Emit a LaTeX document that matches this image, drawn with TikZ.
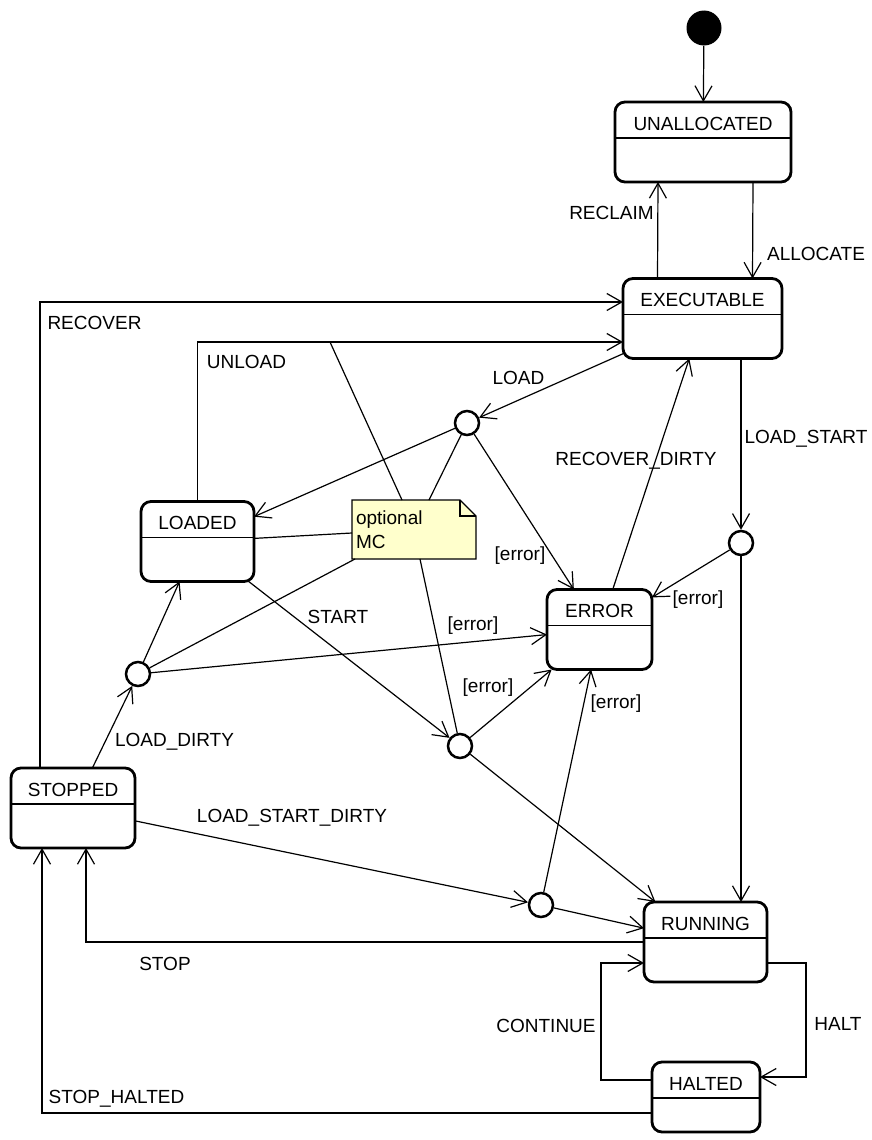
\documentclass[tikz,border=0pt]{standalone}
\usepackage{fontspec}
\setmainfont{Liberation Sans}
\usetikzlibrary{arrows.meta,backgrounds}
\definecolor{notefill}{HTML}{FFFFCC}

\tikzset{
  every node/.style={font=\fontsize{19}{24}\selectfont},
  umlstate/.style={draw, line width=2.8pt, rounded corners=10pt, inner sep=0pt, outer sep=0pt, minimum height=80pt,
    path picture={\draw[line width=1.2pt] ([yshift=-36pt]path picture bounding box.north west) -- ([yshift=-36pt]path picture bounding box.north east);},
    label={[anchor=base,yshift=-28pt]north:#1}},
  startdot/.style={circle, fill=black, minimum size=35pt, inner sep=0pt},
  junction/.style={circle, draw, line width=2.5pt, minimum size=24pt, inner sep=0pt, fill=white},
  notebox/.style={minimum width=124pt, minimum height=59pt, inner sep=0pt, outer sep=0pt, align=left, text width=116pt},
  trans/.style={line width=1.2pt, -{Straight Barb[length=15pt,width=17pt]}},
  noteline/.style={line width=1.2pt},
  lbl/.style={anchor=base, inner sep=0pt}
}

\begin{document}
\begin{tikzpicture}[x=1pt,y=-1pt]
\useasboundingbox (0,0) rectangle (872,1140);

\node[startdot] (start) at (704,28) {};
\node[umlstate=UNALLOCATED, minimum width=176pt] (unalloc) at (703,142) {};
\node[umlstate=EXECUTABLE, minimum width=159pt] (exec) at (702.5,318.5) {};
\node[umlstate=LOADED, minimum width=113pt] (loaded) at (197.5,541.5) {};
\node[umlstate=ERROR, minimum width=105pt] (error) at (599.5,629.5) {};
\node[umlstate=STOPPED, minimum width=124pt] (stopped) at (73,808) {};
\node[umlstate=RUNNING, minimum width=123pt] (running) at (705.5,942) {};
\node[umlstate=HALTED, minimum width=108pt, minimum height=70pt] (halted) at (706,1097) {};

\node[junction] (j1) at (467,423) {};
\node[junction] (j2) at (138,674) {};
\node[junction] (j3) at (460,746) {};
\node[junction] (j4) at (741,543) {};
\node[junction] (j5) at (541,905) {};

\node[notebox] (note) at (414,529.5) {optional\\MC};
\begin{scope}[on background layer]
\filldraw[fill=notefill, line width=1.2pt] (note.north west) -- ([xshift=-16pt]note.north east) -- ([yshift=-16pt]note.north east) -- (note.south east) -- (note.south west) -- cycle;
\draw[line width=1.2pt] ([xshift=-16pt]note.north east) |- ([yshift=-16pt]note.north east);
\end{scope}
\coordinate (unl) at (330,342);

\draw[trans] (start) -- (unalloc);
\draw[trans] ([xshift=50pt]unalloc.south) -- ([xshift=50pt]exec.north);
\draw[trans] ([xshift=-45pt]exec.north) -- ([xshift=-45pt]unalloc.south);
\draw[trans] ([xshift=-33pt]stopped.north) |- ([yshift=16.5pt]exec.west);
\draw[trans] (loaded.north) |- ([yshift=-23.5pt]exec.west);
\draw[trans] (exec) -- (j1);
\draw[trans] (j1) -- (loaded);
\draw[trans] (j1) -- (error);
\draw[trans] (exec.south -| j4) -- (j4);
\draw[trans] (j4) -- (error);
\draw[trans] (j4) -- (running.north -| j4);
\draw[trans] (error) -- (exec);
\draw[trans] (loaded) -- (j3);
\draw[trans] (stopped) -- (j2);
\draw[trans] (j2) -- (loaded);
\draw[trans] (j2) -- (error);
\draw[trans] (j3) -- (error);
\draw[trans] (j3) -- (running);
\draw[trans] (stopped) -- (j5);
\draw[trans] (j5) -- (error);
\draw[trans] (j5) -- (running);
\draw[trans] (running.west) -| ([xshift=13pt]stopped.south);
\draw[trans] ([yshift=-16pt]halted.west) -| ([xshift=-31pt]stopped.south);
\draw[trans] ([yshift=17pt]halted.west) -- ++(-51,0) |- ([yshift=-21pt]running.west);
\draw[trans] ([yshift=-21pt]running.east) -- ++(39,0) |- ([yshift=20pt]halted.east);

\draw[noteline] ([xshift=-12pt]note.north) -- (unl);
\draw[noteline] ([xshift=15pt]note.north) -- (j1);
\draw[noteline] ([yshift=-3.5pt]note.west) -- (loaded);
\draw[noteline] ([xshift=3pt]note.south west) -- (j2);
\draw[noteline] ([xshift=6pt]note.south) -- (j3);

\node[lbl] (lreclaim) at (611.5,219) {RECLAIM};
\node[lbl] (lallocate) at (816,260) {ALLOCATE};
\node[lbl] (lrecover) at (94.5,329) {RECOVER};
\node[lbl] (lunload) at (246.5,368) {UNLOAD};
\node[lbl] (lload) at (518.5,384) {LOAD};
\node[lbl] (lloadstart) at (806,443) {LOAD\_START};
\node[lbl] (lrecdirty) at (636,465) {RECOVER\_DIRTY};
\node[lbl] (lstart) at (338,623) {START};
\node[lbl] (lloaddirty) at (174.5,746) {LOAD\_DIRTY};
\node[lbl] (llsd) at (292,822) {LOAD\_START\_DIRTY};
\node[lbl] (lstop) at (165,970) {STOP};
\node[lbl] (lcontinue) at (546,1032) {CONTINUE};
\node[lbl] (lhalt) at (838,1030) {HALT};
\node[lbl] (lstophalted) at (116.5,1103) {STOP\_HALTED};
\node[lbl] (lerr1) at (520,560) {[error]};
\node[lbl] (lerr2) at (698,604) {[error]};
\node[lbl] (lerr3) at (473,630) {[error]};
\node[lbl] (lerr4) at (488,692) {[error]};
\node[lbl] (lerr5) at (616,708) {[error]};

\end{tikzpicture}
\end{document}
